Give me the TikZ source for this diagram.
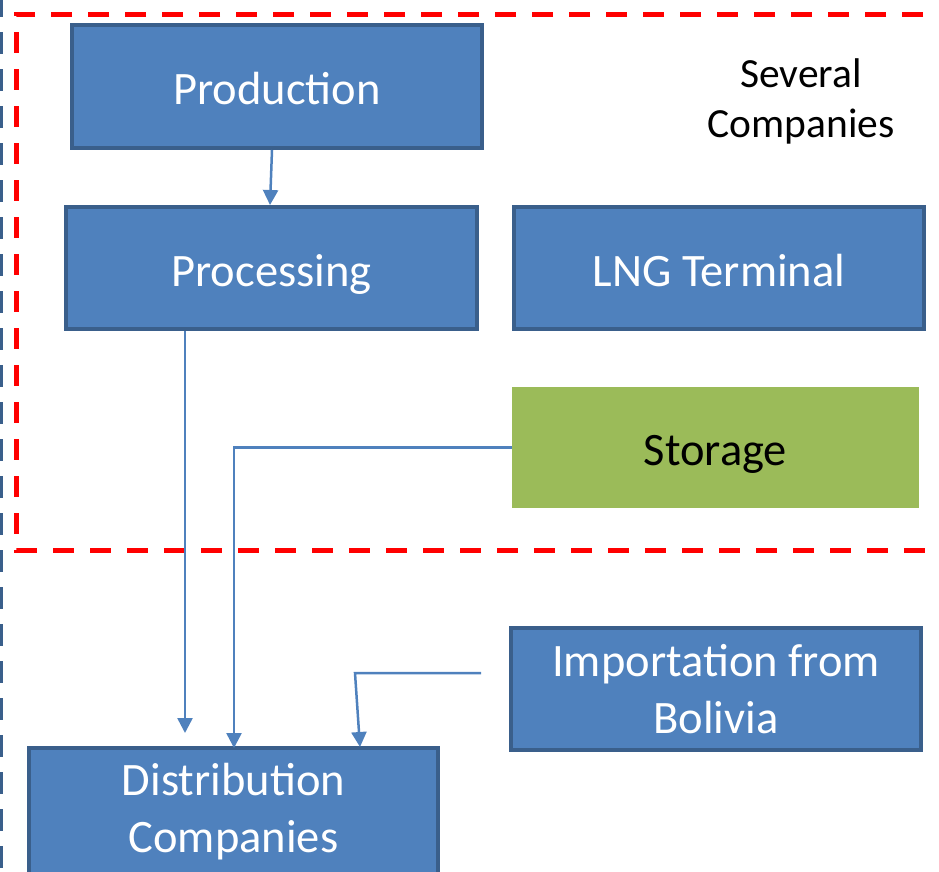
\documentclass[tikz,border=0pt]{standalone}
\usepackage{fontspec}
\setmainfont{Carlito}
\usetikzlibrary{arrows.meta}
\definecolor{boxfill}{HTML}{4F81BD}
\definecolor{boxline}{HTML}{3A5F8B}
\definecolor{stfill}{HTML}{9BBB59}
\definecolor{dred}{HTML}{FF0000}
\tikzset{
  box/.style={draw=boxline, line width=4pt, fill=boxfill, text=white, inner sep=0pt,
    align=center, font=\fontsize{46.5}{57}\selectfont},
  greenbox/.style={fill=stfill, text=black, inner sep=0pt, align=center,
    font=\fontsize{46.5}{57}\selectfont},
  oneline/.style={text height=36pt, text depth=0pt},
  arr/.style={draw=boxfill, line width=2.5pt, -{Triangle[width=15pt,length=15pt]}},
}
\begin{document}
\begin{tikzpicture}[x=1pt,y=-1pt]
\useasboundingbox (0,0) rectangle (939,871);
% frames
\draw[boxline, line width=3.5pt, dash pattern=on 22pt off 15pt] (1.5,-5) -- (1.5,880);
\draw[dred, line width=5pt, dash pattern=on 21pt off 16pt] (960,14) -- (16,14) -- (16,550) -- (960,550);
% nodes
\node[box, oneline, minimum width=410pt, minimum height=123pt] (prod) at (277,86.5) {Production};
\node[box, oneline, minimum width=411pt, minimum height=122pt] (proc) at (271.5,268) {Processing};
\node[box, oneline, minimum width=410pt, minimum height=122pt] (lng) at (719,268) {LNG Terminal};
\node[greenbox, oneline, minimum width=407pt, minimum height=121pt] (stor) at (715.5,447.5) {Storage};
\node[box, minimum width=410pt, minimum height=122pt] (imp) at (716,689) {Importation from\\Bolivia};
\node[box, minimum width=409pt, minimum height=128pt] (dist) at (233.5,812) {Distribution\\Companies};
\node[align=center, font=\fontsize{41.5}{50}\selectfont] (sev) at (801,101) {Several\\Companies};
% connectors
\draw[arr] ([xshift=-5pt]prod.south) -- ([xshift=-1.5pt]proc.north);
\coordinate (pe) at (185,733);
\draw[arr] (proc.south -| pe) -- (pe);
\coordinate (sd) at (234,748);
\draw[arr] (stor.west) -| (sd);
\coordinate (is) at (481,673);
\coordinate (ic) at (355,673);
\coordinate (ie) at (360,747);
\draw[arr] (is) -- (ic) -- (ie);
\end{tikzpicture}
\end{document}
